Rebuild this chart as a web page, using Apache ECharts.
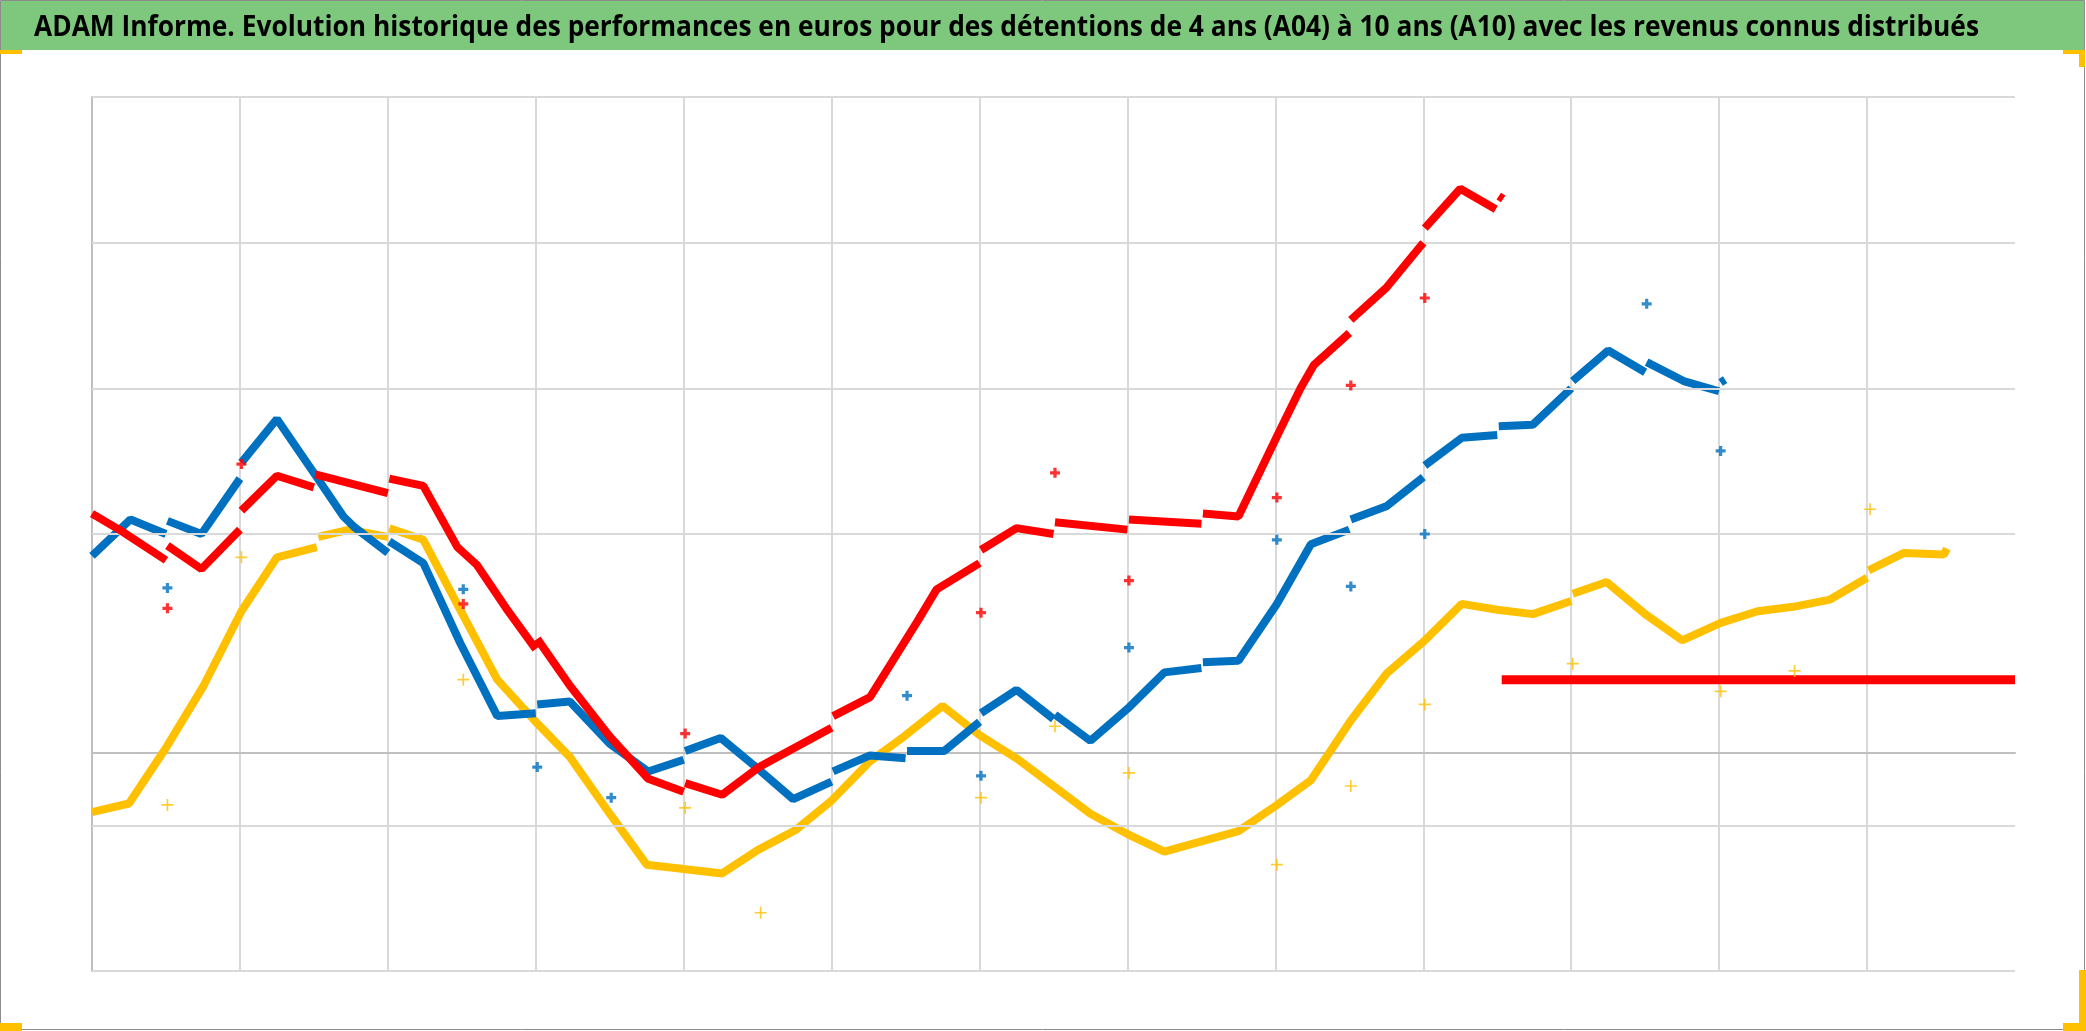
<!DOCTYPE html>
<html>
<head>
<meta charset="utf-8">
<script src="https://cdn.jsdelivr.net/npm/echarts/dist/echarts.min.js"></script>
<style>
html,body{margin:0;padding:0;background:#fff;}
#chart{width:2086px;height:1031px;}
</style>
</head>
<body>
<div id="chart"></div>
<script>
// ---- data (x: time index, 10 units per vertical gridline; y: performance, 1 unit per horizontal gridline) ----
const titleText = "ADAM Informe. Evolution historique des performances en euros pour des détentions de 4 ans (A04) à 10 ans (A10) avec les revenus connus distribués";
const xMin = 0, xMax = 130, xStep = 10;
const yMin = -1.5, yMax = 4.5;
const yGridLines = [-1.5, -0.5, 1.5, 2.5, 3.5, 4.5];

// A10 (red)
const a10 = [
[0,1.64],[2.0,1.52],[5.0,1.32],[5,null],
[5.1,1.42],[7.4,1.26],[10.0,1.53],[10,null],
[10.1,1.66],[12.5,1.90],[15.0,1.82],[15,null],
[15.1,1.91],[20.0,1.78],[20,null],
[20.1,1.88],[22.4,1.83],[24.7,1.41],[26.0,1.29],[28.0,0.99],[30.0,0.71],[30,null],
[30.1,0.78],[32.3,0.46],[35.0,0.11],[37.6,-0.18],[40.0,-0.27],[40,null],
[40.1,-0.21],[42.6,-0.29],[45.1,-0.10],[50.0,0.17],[50,null],
[50.1,0.25],[52.6,0.38],[55.8,0.90],[57.1,1.12],[60.0,1.30],[60,null],
[60.1,1.39],[62.5,1.54],[65.0,1.50],[65,null],
[65.1,1.58],[70.0,1.53],[70,null],
[70.1,1.60],[75.0,1.57],[75,null],
[75.1,1.64],[77.5,1.62],[80.1,2.17],[81.7,2.50],[82.6,2.66],[85.0,2.88],[85,null],
[85.1,2.97],[87.5,3.19],[90.0,3.50],[90,null],
[90.1,3.60],[92.5,3.87],[94.9,3.73],[95,null],
[95.1,3.82],[95.4,3.80]
];
const a10Tail = [[95.3,0.5],[130,0.5]];
const a10Rev = [[5.1,0.99],[10.1,1.98],[25.1,1.02],[40.1,0.13],[60.1,0.96],[65.1,1.92],[70.1,1.18],[80.1,1.75],[85.1,2.52],[90.1,3.12]];

// A07 (blue)
const a07 = [
[0,1.35],[2.6,1.60],[5.0,1.50],[5,null],
[5.1,1.59],[7.4,1.50],[10.0,1.88],[10,null],
[10.1,1.99],[12.5,2.29],[15.2,1.89],[17.0,1.62],[17.7,1.55],[20.0,1.37],[20,null],
[20.1,1.45],[22.4,1.30],[24.9,0.75],[27.4,0.25],[30.0,0.27],[30,null],
[30.1,0.33],[32.3,0.35],[35.0,0.06],[37.6,-0.13],[40.0,-0.05],[40,null],
[40.1,0.01],[42.5,0.10],[45.0,-0.11],[47.4,-0.32],[50.0,-0.20],[50,null],
[50.1,-0.13],[52.6,-0.02],[55.0,-0.04],[55,null],
[55.1,0.01],[57.6,0.01],[60.0,0.21],[60,null],
[60.1,0.27],[62.5,0.43],[65.0,0.23],[65,null],
[65.1,0.26],[67.5,0.08],[70.0,0.30],[72.5,0.55],[75.0,0.58],[75,null],
[75.1,0.62],[77.5,0.63],[80.1,1.02],[82.4,1.43],[85.0,1.53],[85,null],
[85.1,1.60],[87.5,1.69],[90.0,1.89],[90,null],
[90.1,1.97],[92.6,2.16],[95.0,2.18],[95,null],
[95.1,2.24],[97.4,2.25],[100.0,2.50],[100,null],
[100.1,2.55],[102.5,2.76],[105.0,2.61],[105,null],
[105.1,2.68],[107.6,2.55],[110.0,2.48],[110,null],
[110.1,2.54],[110.4,2.56]
];
const a07Rev = [[5.1,1.13],[25.1,1.12],[30.1,-0.10],[35.1,-0.31],[55.1,0.39],[60.1,-0.16],[70.1,0.72],[80.1,1.46],[85.1,1.14],[90.1,1.50],[105.1,3.08],[110.1,2.07]];

// A04 (yellow)
const a04 = [
[0,-0.41],[2.5,-0.35],[5.05,0.04],[7.5,0.45],[10.1,0.97],[12.5,1.34],[15.2,1.41],[15.2,null],
[15.3,1.48],[17.4,1.53],[20.0,1.48],[20,null],
[20.1,1.54],[22.4,1.46],[25.1,0.94],[27.4,0.50],[30.0,0.21],[32.3,-0.03],[35.0,-0.42],[37.5,-0.77],[40.0,-0.80],
[42.6,-0.83],[45.0,-0.67],[47.6,-0.53],[50.0,-0.33],[52.6,-0.06],[54.9,0.11],[57.5,0.32],[60.0,0.12],[62.5,-0.04],
[65.0,-0.23],[67.5,-0.42],[70.0,-0.56],[72.5,-0.68],[75.0,-0.61],[77.5,-0.54],[80.1,-0.36],[82.4,-0.19],[85.1,0.22],
[87.5,0.54],[90.0,0.76],[92.6,1.02],[95.0,0.98],[97.4,0.95],[100.0,1.04],[100,null],
[100.1,1.09],[102.4,1.17],[105.0,0.95],[107.5,0.77],[110.1,0.89],[112.6,0.97],[115.0,1.00],[117.5,1.05],[120.0,1.20],[120,null],
[120.1,1.25],[122.5,1.37],[125.2,1.36],[125.4,1.40]
];
const a04Rev = [[5.1,-0.36],[10.1,1.34],[25.1,0.50],[40.1,-0.38],[45.2,-1.10],[60.1,-0.31],[65.1,0.18],[70.1,-0.14],[80.1,-0.77],[85.1,-0.23],[90.1,0.33],[100.1,0.61],[110.1,0.42],[115.1,0.56],[120.2,1.67]];

// ---- styles ----
const RED = '#FF0000', BLUE = '#0070C0', YELLOW = '#FFC000';
const GRID = '#d9d9d9', AXIS = '#bfbfbf';
const plusThick = 'path://M0,3.4H10V6.6H0ZM3.4,0H6.6V10H3.4Z';
const plusThin = 'path://M0,4.3H10V5.7H0ZM4.3,0H5.7V10H4.3Z';

// title font, squeezed horizontally to the width of the original title
const titleFont = 'bold 29px "Open Sans", "DejaVu Sans", sans-serif';
const titleLeft = 34, titleTargetWidth = 1945;
const mctx = document.createElement('canvas').getContext('2d');
mctx.font = titleFont;
const titleScaleX = titleTargetWidth / mctx.measureText(titleText).width;

function lineSeries(name, data, color, z, width) {
  return { name, type: 'line', data, showSymbol: false, connectNulls: false,
    lineStyle: { color, width }, itemStyle: { color }, z, animation: false, silent: true };
}
function dotSeries(name, data, color, sym, size, z) {
  return { name, type: 'scatter', data, symbol: sym, symbolSize: size,
    itemStyle: { color }, z, animation: false, silent: true };
}

const chart = echarts.init(document.getElementById('chart'), null, { renderer: 'canvas' });
chart.setOption({
  backgroundColor: '#ffffff',
  animation: false,
  grid: { left: 92, right: 71, top: 97, bottom: 60, containLabel: false },
  xAxis: {
    type: 'value', min: xMin, max: xMax, interval: xStep,
    axisLabel: { show: false }, axisTick: { show: false },
    axisLine: { show: true, onZero: true, lineStyle: { color: AXIS, width: 2 } },
    splitLine: { show: true, showMaxLine: false, lineStyle: { color: GRID, width: 2 } }
  },
  yAxis: {
    type: 'value', min: yMin, max: yMax,
    axisLabel: { show: false }, axisTick: { show: false },
    axisLine: { show: true, onZero: false, lineStyle: { color: AXIS, width: 2 } },
    splitLine: { show: false }
  },
  graphic: [
    { type: 'rect', shape: { x: 0.5, y: 0.5, width: 2084, height: 1029 }, style: { fill: 'none', stroke: '#8c8c8c', lineWidth: 1 }, z: 0, silent: true },
    { type: 'rect', shape: { x: 1, y: 1, width: 2083, height: 49 }, style: { fill: '#7dc87d' }, z: 1, silent: true },
    { type: 'text', x: titleLeft, y: 28, scaleX: titleScaleX, originX: 0, originY: 0,
      style: { text: titleText, fill: '#000', font: titleFont, verticalAlign: 'middle' }, z: 2, silent: true },
    { type: 'rect', shape: { x: 0, y: 50, width: 22, height: 4 }, style: { fill: YELLOW }, z: 2, silent: true },
    { type: 'rect', shape: { x: 2063, y: 50, width: 22, height: 4 }, style: { fill: YELLOW }, z: 2, silent: true },
    { type: 'rect', shape: { x: 2079, y: 50, width: 6, height: 17 }, style: { fill: YELLOW }, z: 2, silent: true },
    { type: 'rect', shape: { x: 0, y: 1023, width: 22, height: 8 }, style: { fill: YELLOW }, z: 2, silent: true },
    { type: 'rect', shape: { x: 2063, y: 1023, width: 23, height: 8 }, style: { fill: YELLOW }, z: 2, silent: true },
    { type: 'rect', shape: { x: 2079, y: 970, width: 7, height: 61 }, style: { fill: YELLOW }, z: 2, silent: true }
  ],
  series: [
    { name: 'grid', type: 'line', data: [], z: 1, silent: true,
      markLine: { silent: true, symbol: ['none', 'none'], label: { show: false }, animation: false,
        lineStyle: { color: GRID, width: 2, type: 'solid' },
        data: yGridLines.map(v => ({ yAxis: v })) } },
    lineSeries('A04', a04, YELLOW, 3, 8),
    lineSeries('A07', a07, BLUE, 4, 8),
    lineSeries('A10', a10, RED, 5, 8),
    lineSeries('A10 suite', a10Tail, RED, 5, 9),
    dotSeries('A04 revenus', a04Rev, YELLOW, plusThin, 12, 6),
    dotSeries('A07 revenus', a07Rev, BLUE, plusThick, 10, 6),
    dotSeries('A10 revenus', a10Rev, RED, plusThick, 10, 6)
  ]
});
</script>
</body>
</html>
